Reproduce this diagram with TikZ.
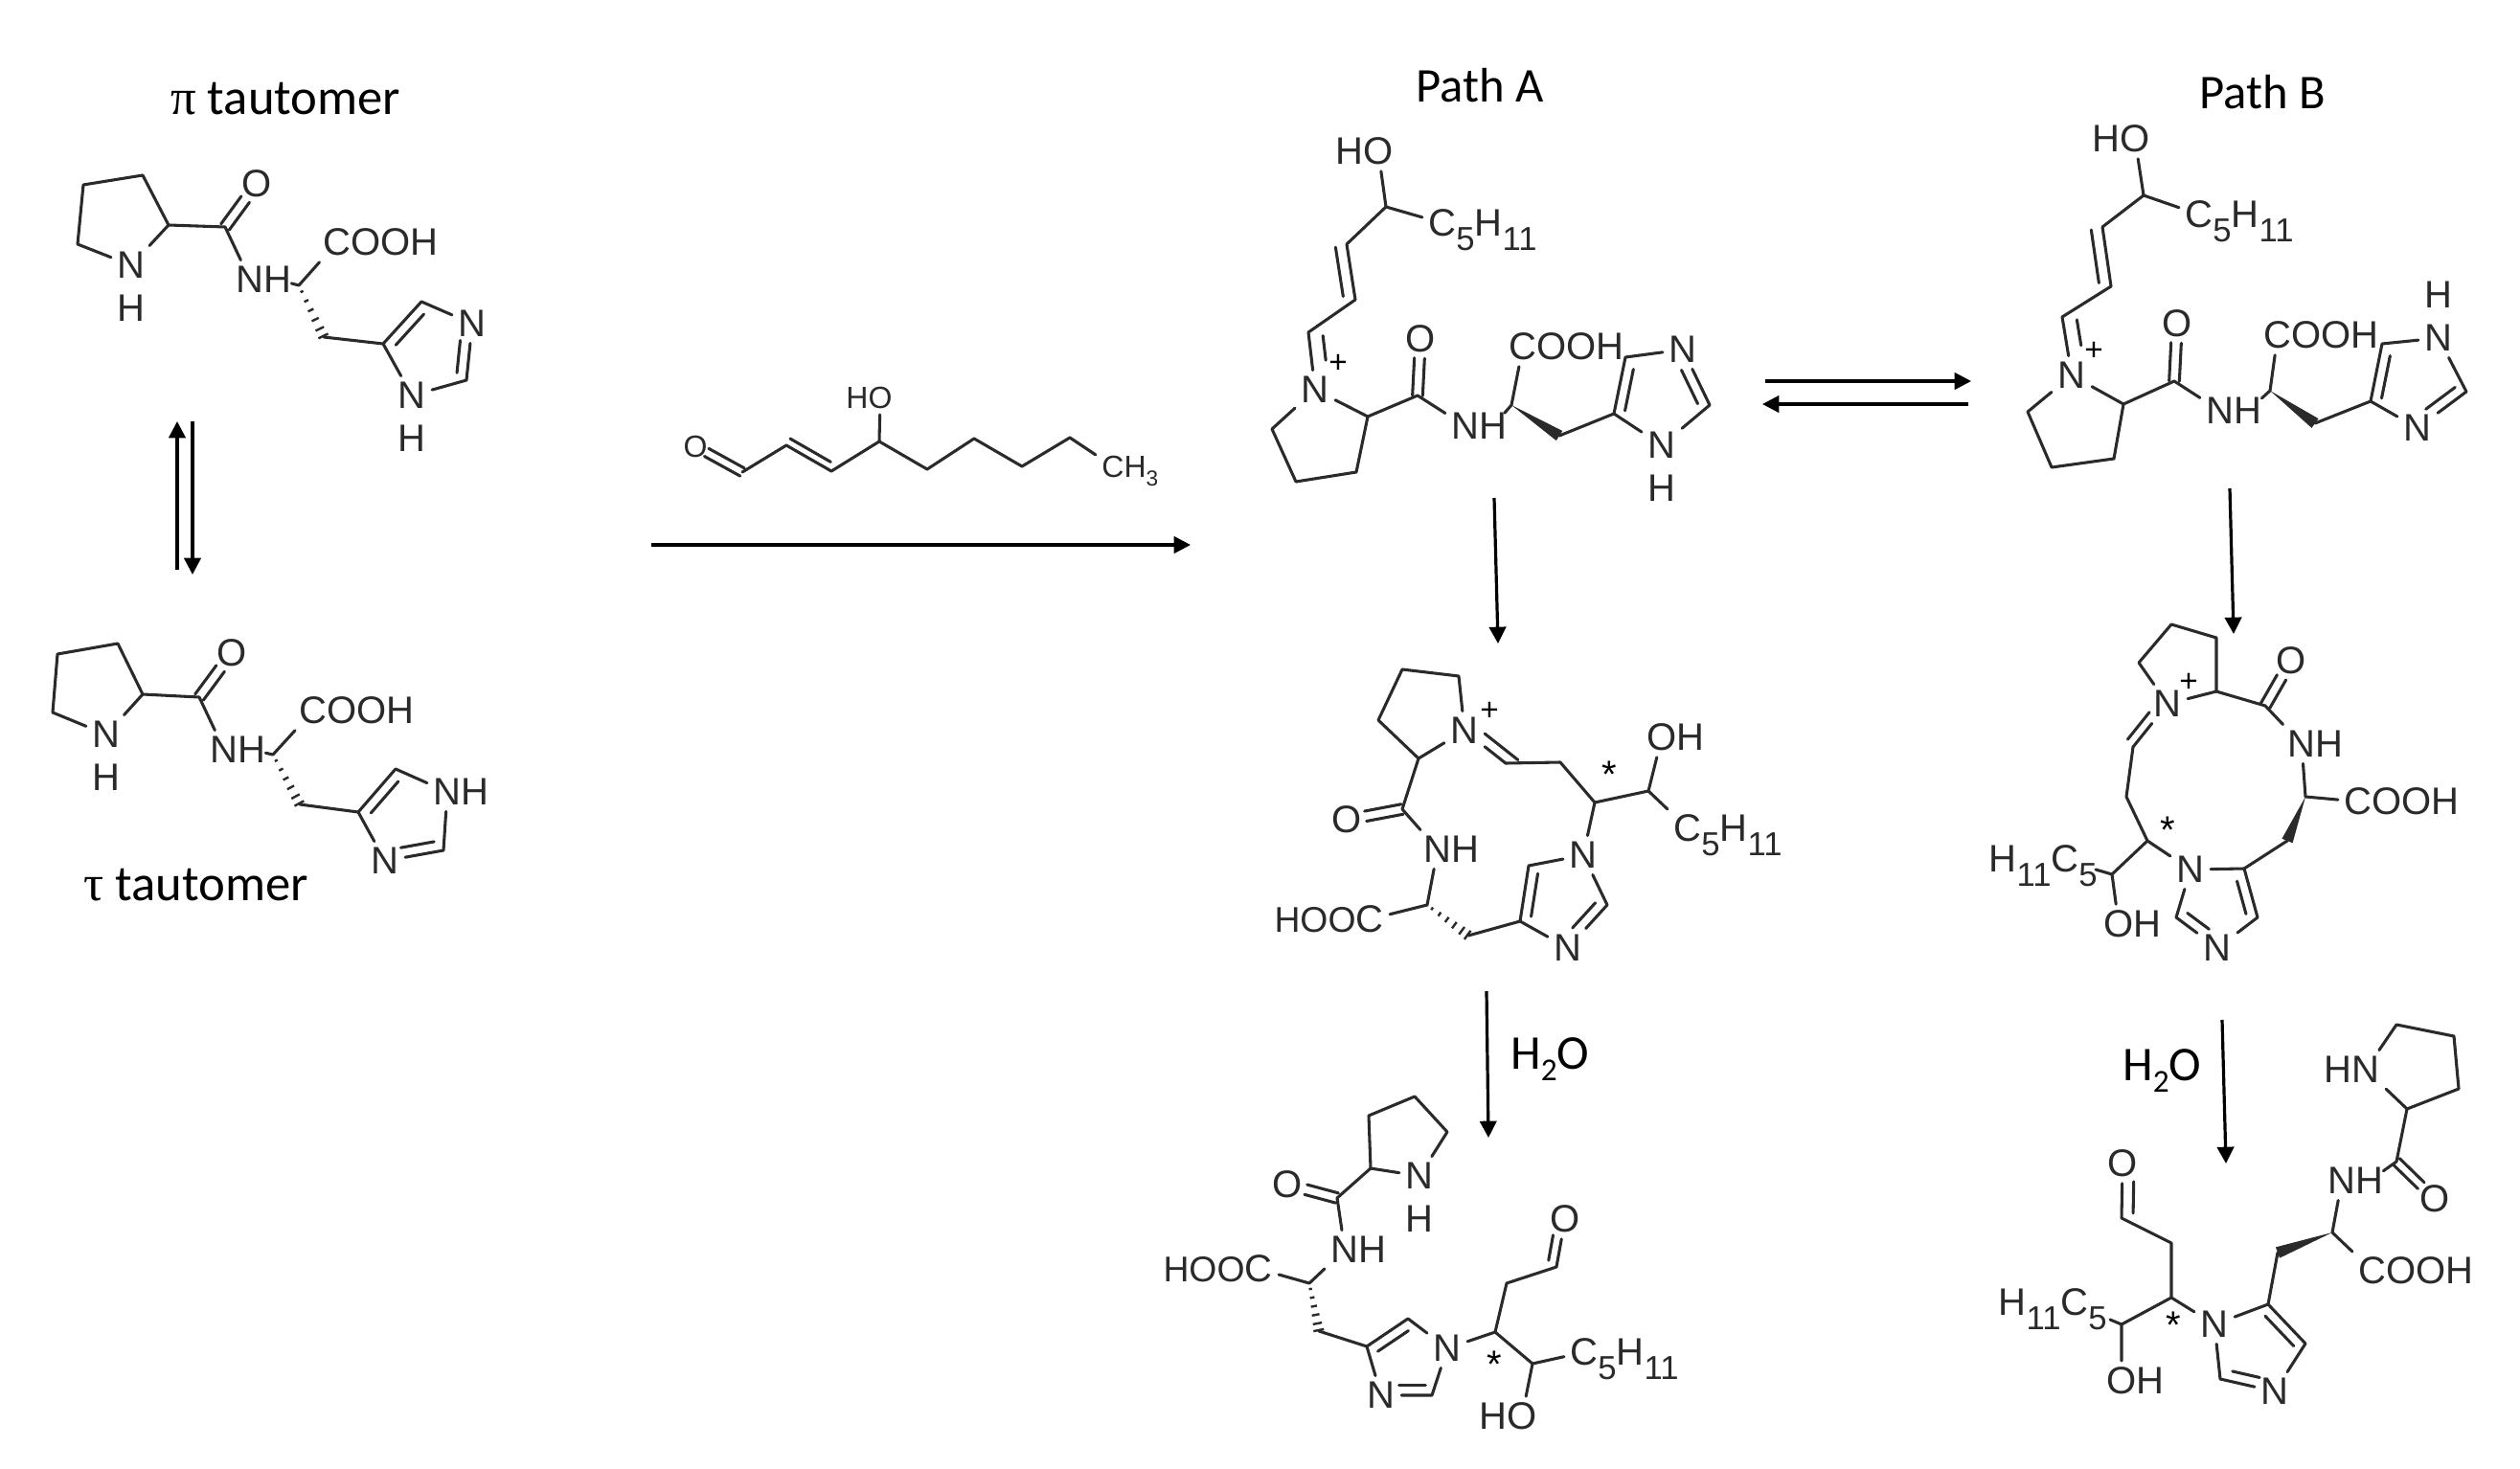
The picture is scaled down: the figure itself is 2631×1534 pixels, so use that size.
\documentclass[tikz,border=0pt]{standalone}
\usepackage{fontspec}
\setmainfont{Liberation Sans}
\newfontfamily\capfont{Carlito}
\newfontfamily\grkfont{Liberation Serif}
\usetikzlibrary{positioning,calc,arrows.meta}
\definecolor{inkgray}{HTML}{2A2A2A}
\tikzset{
  bond/.style={line width=2.3pt,draw=inkgray,line join=round,line cap=round},
  atom/.style={font=\fontsize{30}{30}\selectfont,inner sep=0pt,outer sep=5pt,text=inkgray},
  tail/.style={atom,outer sep=0pt},
  hooc/.style={tail,font=\fontsize{28}{28}\selectfont},
  smallatom/.style={atom,font=\fontsize{24}{24}\selectfont},
  smalltail/.style={smallatom,outer sep=0pt},
  caption/.style={font=\capfont\fontsize{38}{38}\selectfont,inner sep=0pt,text=black,anchor=base west},
  widecaption/.style={caption,font=\capfont\fontsize{39.5}{39.5}\selectfont},
  rxn/.style={line width=2.4pt,draw=black,-{Triangle[length=13pt,width=13pt]}},
  starmark/.style={font=\fontsize{30}{30}\selectfont,inner sep=0pt,anchor=north,text=black},
  plusmark/.style={font=\fontsize{25}{25}\selectfont,inner sep=0pt,text=black}
}
\newcommand{\sbs}[1]{\raisebox{-0.38em}{\fontsize{26}{26}\selectfont #1}}
\newcommand{\smallsbs}[1]{\raisebox{-0.3em}{\fontsize{17}{17}\selectfont #1}}
% second line of a double bond: from, to, offset, shorten start, shorten end
\newcommand{\dbl}[5]{\draw[bond,shorten <=#4,shorten >=#5] ($(#1)!#3!-90:(#2)$) -- ($(#2)!#3!90:(#1)$);}
\newcommand{\hashb}[2]{\foreach \t/\w in {0.12/1.2pt,0.3/1.8pt,0.48/2.4pt,0.66/3pt,0.84/3.6pt,0.98/4.2pt}
  {\draw[line width=1.8pt,draw=inkgray] ($(#1)!\t!(#2)!\w!90:(#2)$) -- ($(#1)!\t!(#2)!\w!-90:(#2)$);}}
\newcommand{\wedgeb}[2]{\fill[inkgray] (#1) -- ($(#2)!4.5pt!90:(#1)$) -- ($(#2)!4.5pt!-90:(#1)$) -- cycle;}
\begin{document}
\begin{tikzpicture}[x=0.75pt,y=0.75pt,yscale=-1,xscale=1]
\useasboundingbox (0,0) rectangle (2631,1534);

% Text Node
\node[widecaption] (capPi) at (178,120) {{\grkfont π} tautomer};
\node[widecaption] (capTau) at (87,940) {{\grkfont τ} tautomer};
\node[caption] (capA) at (1478,107) {Path A};
\node[caption] (capB) at (2296,114) {Path B};
\node[caption] (waterA) at (1577,1116) {H\raisebox{-0.25em}{\fontsize{25}{25}\selectfont 2}O};
\node[caption] (waterB) at (2216,1128) {H\raisebox{-0.25em}{\fontsize{25}{25}\selectfont 2}O};

%Straight Lines
\coordinate (upS) at (185,595); \coordinate (upE) at (185,440);
\coordinate (dnS) at (201,440); \coordinate (dnE) at (201,600);
\coordinate (addS) at (680,569); \coordinate (addE) at (1243,569);
\coordinate (eqS) at (1843,398); \coordinate (eqE) at (2058,398);
\coordinate (qeS) at (2055,422); \coordinate (qeE) at (1840,422);
\coordinate (aS) at (1560,520); \coordinate (aE) at (1564,672);
\coordinate (bS) at (2328,510); \coordinate (bE) at (2332,662);
\coordinate (hS) at (1552,1035); \coordinate (hE) at (1554,1188);
\coordinate (kS) at (2320,1065); \coordinate (kE) at (2324,1215);
\draw[rxn] (upS) -- (upE);
\draw[rxn] (dnS) -- (dnE);
\draw[rxn] (addS) -- (addE);
\draw[rxn] (eqS) -- (eqE);
\draw[rxn] (qeS) -- (qeE);
\draw[rxn] (aS) -- (aE);
\draw[rxn] (bS) -- (bE);
\draw[rxn] (hS) -- (hE);
\draw[rxn] (kS) -- (kE);

%Shape: pi tautomer
\coordinate (pi1) at (87,193); \coordinate (pi2) at (149,183); \coordinate (pi3) at (176,235);
\coordinate (pi4) at (81,255); \coordinate (pi5) at (235,237);
\coordinate (piCa) at (312,298); \coordinate (piCb) at (338,352);
\coordinate (piC4) at (400,359); \coordinate (piC5) at (440,315); \coordinate (piC2) at (487,397);
\node[atom] (piN) at (137,277) {N};
\node[tail,below=8pt of piN] (piH) {H};
\node[atom] (piO) at (268,192) {O};
\node[atom] (piNH) at (261,292) {N};
\node[tail,base right=-5pt of piNH] (piNHh) {H};
\node[atom] (piX) at (352,253) {C};
\node[tail,base right=-5pt of piX] (piXr) {OOH};
\node[atom] (piN3) at (493,338) {N};
\node[atom] (piN1) at (430,413) {N};
\node[tail,below=8pt of piN1] (piH1) {H};
\draw[bond] (piN) -- (pi4) -- (pi1) -- (pi2) -- (pi3) -- (piN);
\draw[bond] (pi3) -- (pi5) -- (piNH);
\dbl{pi5}{piO}{4pt}{0pt}{15pt} \dbl{pi5}{piO}{-4pt}{0pt}{15pt}
\draw[bond] (piNHh) -- (piCa) -- (piX);
\hashb{piCa}{piCb}
\draw[bond] (piCb) -- (piC4) -- (piC5) -- (piN3) -- (piC2) -- (piN1) -- (piC4);
\dbl{piC4}{piC5}{-8pt}{6pt}{6pt}
\dbl{piN3}{piC2}{-8pt}{14pt}{5pt}

%Shape: tau tautomer
\coordinate (tau1) at (60,683); \coordinate (tau2) at (123,672); \coordinate (tau3) at (149,725);
\coordinate (tau4) at (55,744); \coordinate (tau5) at (208,728);
\coordinate (tauCa) at (285,788); \coordinate (tauCb) at (313,840);
\coordinate (tauC4) at (374,848); \coordinate (tauC5) at (413,803); \coordinate (tauC2) at (463,888);
\node[atom] (tauN) at (111,767) {N};
\node[tail,below=8pt of tauN] (tauH) {H};
\node[atom] (tauO) at (242,682) {O};
\node[atom] (tauNH) at (234,783) {N};
\node[tail,base right=-5pt of tauNH] (tauNHh) {H};
\node[atom] (tauX) at (327,742) {C};
\node[tail,base right=-5pt of tauX] (tauXr) {OOH};
\node[atom] (tauN1) at (467,827) {N};
\node[tail,base right=-5pt of tauN1] (tauN1h) {H};
\node[atom] (tauN3) at (402,899) {N};
\draw[bond] (tauN) -- (tau4) -- (tau1) -- (tau2) -- (tau3) -- (tauN);
\draw[bond] (tau3) -- (tau5) -- (tauNH);
\dbl{tau5}{tauO}{4pt}{0pt}{15pt} \dbl{tau5}{tauO}{-4pt}{0pt}{15pt}
\draw[bond] (tauNHh) -- (tauCa) -- (tauX);
\hashb{tauCa}{tauCb}
\draw[bond] (tauCb) -- (tauC4) -- (tauC5) -- (tauN1) -- (tauC2) -- (tauN3) -- (tauC4);
\dbl{tauC4}{tauC5}{-8pt}{6pt}{6pt}
\dbl{tauN3}{tauC2}{8pt}{14pt}{6pt}

%Shape: aldehyde
\coordinate (ald1) at (775,493); \coordinate (ald2) at (821,465); \coordinate (ald3) at (868,492);
\coordinate (ald4) at (918,461); \coordinate (ald5) at (968,490); \coordinate (ald6) at (1017,458);
\coordinate (ald7) at (1067,487); \coordinate (ald8) at (1117,457);
\node[smallatom] (aldO) at (726,466) {O};
\node[smallatom] (aldOH) at (919,415) {O};
\node[smalltail,base left=-5pt of aldOH] (aldOHh) {H};
\node[smallatom] (aldMe) at (1162,487) {C};
\node[smalltail,base right=-5pt of aldMe] (aldMer) {H\smallsbs{3}};
\dbl{aldO}{ald1}{3.5pt}{10pt}{0pt} \dbl{aldO}{ald1}{-3.5pt}{10pt}{0pt}
\draw[bond] (ald1) -- (ald2) -- (ald3) -- (ald4) -- (ald5) -- (ald6) -- (ald7) -- (ald8) -- (aldMe);
\dbl{ald2}{ald3}{6pt}{0pt}{4pt}
\draw[bond] (ald4) -- (aldOH);

%Shape: path A iminium
\coordinate (aa1) at (1447,216); \coordinate (aa2) at (1406,255); \coordinate (aa3) at (1415,313);
\coordinate (aa4) at (1366,347); \coordinate (aa5) at (1428,435); \coordinate (aa6) at (1416,493);
\coordinate (aa7) at (1353,503); \coordinate (aa8) at (1328,448); \coordinate (aa9) at (1480,413);
\coordinate (aaCa) at (1578,423); \coordinate (aaCb) at (1628,455);
\coordinate (aaC4) at (1685,432); \coordinate (aaC5) at (1697,373); \coordinate (aaC2) at (1785,423);
\node[atom] (aaOH) at (1439,158) {O};
\node[tail,base left=-5pt of aaOH] (aaOHh) {H};
\node[atom] (aaR) at (1506,233) {C};
\node[tail,base right=-5pt of aaR] (aaRr) {\sbs{5}H\sbs{11}};
\node[atom] (aaN) at (1373,407) {N};
\node[plusmark] (aaP) at (1397,380) {+};
\node[atom] (aaO) at (1483,354) {O};
\node[atom] (aaNH) at (1530,445) {N};
\node[tail,base right=-5pt of aaNH] (aaNHh) {H};
\node[atom] (aaX) at (1590,362) {C};
\node[tail,base right=-5pt of aaX] (aaXr) {OOH};
\node[atom] (aaN3) at (1757,365) {N};
\node[atom] (aaN1) at (1735,465) {N};
\node[tail,below=8pt of aaN1] (aaH1) {H};
\draw[bond] (aaOH) -- (aa1) -- (aaR);
\draw[bond] (aa1) -- (aa2) -- (aa3) -- (aa4) -- (aaN);
\dbl{aa2}{aa3}{-9pt}{1pt}{4pt}
\dbl{aa4}{aaN}{11pt}{4pt}{22pt}
\draw[bond] (aaN) -- (aa5) -- (aa6) -- (aa7) -- (aa8) -- (aaN);
\draw[bond] (aa5) -- (aa9) -- (aaNH);
\dbl{aa9}{aaO}{4pt}{0pt}{15pt} \dbl{aa9}{aaO}{-4pt}{0pt}{15pt}
\draw[bond] (aaX) -- (aaCa) -- (aaNHh);
\wedgeb{aaCa}{aaCb}
\draw[bond] (aaCb) -- (aaC4) -- (aaC5) -- (aaN3) -- (aaC2) -- (aaN1) -- (aaC4);
\dbl{aaC4}{aaC5}{-8pt}{4pt}{8pt}
\dbl{aaN3}{aaC2}{-8pt}{14pt}{5pt}

%Shape: path B iminium
\coordinate (ba1) at (2238,204); \coordinate (ba2) at (2195,237); \coordinate (ba3) at (2204,299);
\coordinate (ba4) at (2153,331); \coordinate (ba5) at (2217,422); \coordinate (ba6) at (2207,479);
\coordinate (ba7) at (2142,488); \coordinate (ba8) at (2117,430); \coordinate (ba9) at (2270,398);
\coordinate (baCa) at (2370,408); \coordinate (baCb) at (2417,442);
\coordinate (baC4) at (2475,419); \coordinate (baC5) at (2487,359); \coordinate (baC2) at (2575,409);
\node[atom] (baOH) at (2229,145) {O};
\node[tail,base left=-5pt of baOH] (baOHh) {H};
\node[atom] (baR) at (2296,224) {C};
\node[tail,base right=-5pt of baR] (baRr) {\sbs{5}H\sbs{11}};
\node[atom] (baN) at (2163,392) {N};
\node[plusmark] (baP) at (2186,367) {+};
\node[atom] (baO) at (2273,338) {O};
\node[atom] (baNH) at (2318,429) {N};
\node[tail,base right=-5pt of baNH] (baNHh) {H};
\node[atom] (baX) at (2378,350) {C};
\node[tail,base right=-5pt of baX] (baXr) {OOH};
\node[atom] (baN3) at (2546,353) {N};
\node[tail,above=8pt of baN3] (baH3) {H};
\node[atom] (baN1) at (2524,447) {N};
\draw[bond] (baOH) -- (ba1) -- (baR);
\draw[bond] (ba1) -- (ba2) -- (ba3) -- (ba4) -- (baN);
\dbl{ba2}{ba3}{-9pt}{1pt}{4pt}
\dbl{ba4}{baN}{11pt}{4pt}{22pt}
\draw[bond] (baN) -- (ba5) -- (ba6) -- (ba7) -- (ba8) -- (baN);
\draw[bond] (ba5) -- (ba9) -- (baNH);
\dbl{ba9}{baO}{4pt}{0pt}{15pt} \dbl{ba9}{baO}{-4pt}{0pt}{15pt}
\draw[bond] (baX) -- (baCa) -- (baNHh);
\wedgeb{baCa}{baCb}
\draw[bond] (baCb) -- (baC4) -- (baC5) -- (baN3) -- (baC2) -- (baN1) -- (baC4);
\dbl{baC4}{baC5}{-8pt}{4pt}{8pt}
\dbl{baC2}{baN1}{-8pt}{5pt}{14pt}

%Shape: path A macrocycle
\coordinate (ab1) at (1464,699); \coordinate (ab2) at (1523,706); \coordinate (ab3) at (1481,792);
\coordinate (ab4) at (1439,752); \coordinate (ab5) at (1464,845); \coordinate (abCa) at (1490,945);
\coordinate (abCb) at (1533,977); \coordinate (abC4) at (1587,962); \coordinate (abC5) at (1596,904);
\coordinate (abC2) at (1678,945); \coordinate (ab6) at (1572,797); \coordinate (ab7) at (1629,796);
\coordinate (ab8) at (1665,838); \coordinate (ab9) at (1721,826);
\node[atom] (abN) at (1529,763) {N};
\node[plusmark] (abP) at (1555,743) {+};
\node[atom] (abO) at (1406,856) {O};
\node[atom] (abNH) at (1501,887) {N};
\node[tail,base right=-5pt of abNH] (abNHh) {H};
\node[atom] (abX) at (1430,960) {C};
\node[hooc,base left=-5pt of abX] (abXl) {HOO};
\node[atom] (abN1) at (1653,893) {N};
\node[atom] (abN3) at (1637,990) {N};
\node[starmark] (abS) at (1680,795) {*};
\node[atom] (abOH) at (1735,770) {O};
\node[tail,base right=-5pt of abOH] (abOHh) {H};
\node[atom] (abR) at (1762,865) {C};
\node[tail,base right=-5pt of abR] (abRr) {\sbs{5}H\sbs{11}};
\draw[bond] (abN) -- (ab2) -- (ab1) -- (ab4) -- (ab3) -- (abN);
\draw[bond] (ab3) -- (ab5) -- (abNH);
\dbl{ab5}{abO}{4pt}{0pt}{15pt} \dbl{ab5}{abO}{-4pt}{0pt}{15pt}
\draw[bond] (abNH) -- (abCa) -- (abX);
\hashb{abCa}{abCb}
\draw[bond] (abCb) -- (abC4) -- (abC5) -- (abN1) -- (abC2) -- (abN3) -- (abC4);
\dbl{abC4}{abC5}{-8pt}{5pt}{5pt}
\dbl{abC2}{abN3}{-8pt}{5pt}{14pt}
\draw[bond] (abN) -- (ab6) -- (ab7) -- (ab8) -- (abN1);
\dbl{abN}{ab6}{8pt}{14pt}{-6pt}
\draw[bond] (ab8) -- (ab9) -- (abOH);
\draw[bond] (ab9) -- (abR);

%Shape: path B macrocycle
\coordinate (bb1) at (2267,652); \coordinate (bb2) at (2314,666); \coordinate (bb3) at (2314,722);
\coordinate (bb4) at (2233,692); \coordinate (bb5) at (2365,737); \coordinate (bbCa) at (2407,832);
\coordinate (bbCb) at (2388,878); \coordinate (bbC4) at (2343,907); \coordinate (bbC5) at (2357,958);
\coordinate (bbC2) at (2272,958); \coordinate (bb6) at (2227,780); \coordinate (bb7) at (2220,832);
\coordinate (bb8) at (2242,878); \coordinate (bb9) at (2205,913); \coordinate (bbE) at (2188,908);
\node[atom] (bbN) at (2263,735) {N};
\node[plusmark] (bbP) at (2285,713) {+};
\node[atom] (bbO) at (2392,690) {O};
\node[atom] (bbNH) at (2403,777) {N};
\node[tail,base right=-5pt of bbNH] (bbNHh) {H};
\node[atom] (bbX) at (2462,837) {C};
\node[tail,base right=-5pt of bbX] (bbXr) {OOH};
\node[atom] (bbN1) at (2287,908) {N};
\node[atom] (bbN3) at (2315,990) {N};
\node[starmark] (bbS) at (2263,853) {*};
\node[atom] (bbOH) at (2212,965) {O};
\node[tail,base right=-5pt of bbOH] (bbOHh) {H};
\node[atom] (bbR) at (2156,897) {C};
\node[tail,base left=-5pt of bbR] (bbRl) {H\sbs{11}};
\node[tail,base right=-5pt of bbR] (bbRr) {\sbs{5}};
\draw[bond] (bbN) -- (bb4) -- (bb1) -- (bb2) -- (bb3) -- (bbN);
\draw[bond] (bb3) -- (bb5) -- (bbNH);
\dbl{bb5}{bbO}{4pt}{0pt}{15pt} \dbl{bb5}{bbO}{-4pt}{0pt}{15pt}
\draw[bond] (bbNH) -- (bbCa) -- (bbX);
\wedgeb{bbCa}{bbCb}
\draw[bond] (bbCb) -- (bbC4) -- (bbC5) -- (bbN3) -- (bbC2) -- (bbN1) -- (bbC4);
\dbl{bbC4}{bbC5}{-8pt}{8pt}{5pt}
\dbl{bbC2}{bbN3}{8pt}{5pt}{14pt}
\draw[bond] (bbN) -- (bb6) -- (bb7) -- (bb8) -- (bbN1);
\dbl{bbN}{bb6}{-7pt}{14pt}{2pt}
\draw[bond] (bb8) -- (bb9) -- (bbOH);
\draw[bond] (bb9) -- (bbE);

%Shape: path A product
\coordinate (ac1) at (1429,1165); \coordinate (ac2) at (1477,1145); \coordinate (ac3) at (1511,1182);
\coordinate (ac4) at (1431,1220); \coordinate (ac5) at (1396,1251); \coordinate (acCa) at (1367,1340);
\coordinate (acCb) at (1377,1390); \coordinate (acC4) at (1427,1406); \coordinate (acC5) at (1470,1377);
\coordinate (acC2) at (1495,1457); \coordinate (ac6) at (1561,1391); \coordinate (ac7) at (1573,1340);
\coordinate (ac8) at (1625,1323); \coordinate (ac9) at (1600,1424);
\node[atom] (acN) at (1482,1228) {N};
\node[tail,below=8pt of acN] (acH) {H};
\node[atom] (acO) at (1344,1237) {O};
\node[atom] (acNH) at (1404,1305) {N};
\node[tail,base right=-5pt of acNH] (acNHh) {H};
\node[atom] (acX) at (1314,1325) {C};
\node[hooc,base left=-5pt of acX] (acXl) {HOO};
\node[atom] (acN1) at (1511,1408) {N};
\node[atom] (acN3) at (1442,1457) {N};
\node[starmark] (acS) at (1560,1411) {*};
\node[atom] (acO2) at (1634,1273) {O};
\node[atom] (acOH) at (1589,1479) {O};
\node[tail,base left=-5pt of acOH] (acOHh) {H};
\node[atom] (acR) at (1654,1412) {C};
\node[tail,base right=-5pt of acR] (acRr) {\sbs{5}H\sbs{11}};
\draw[bond] (acN) -- (ac3) -- (ac2) -- (ac1) -- (ac4) -- (acN);
\draw[bond] (ac4) -- (ac5) -- (acNH) -- (acCa) -- (acX);
\dbl{ac5}{acO}{4pt}{0pt}{15pt} \dbl{ac5}{acO}{-4pt}{0pt}{15pt}
\hashb{acCa}{acCb}
\draw[bond] (acCb) -- (acC4) -- (acC5) -- (acN1) -- (acC2) -- (acN3) -- (acC4);
\dbl{acC4}{acC5}{-8pt}{5pt}{5pt}
\dbl{acC2}{acN3}{-8pt}{5pt}{14pt}
\draw[bond] (acN1) -- (ac6) -- (ac7) -- (ac8) -- (acO2);
\dbl{ac8}{acO2}{7pt}{4pt}{14pt}
\draw[bond] (ac6) -- (ac9) -- (acOH);
\draw[bond] (ac9) -- (acR);

%Shape: path B product
\coordinate (bc1) at (2502,1070); \coordinate (bc2) at (2562,1082); \coordinate (bc3) at (2567,1137);
\coordinate (bc4) at (2513,1158); \coordinate (bc5) at (2502,1213); \coordinate (bcCa) at (2435,1287);
\coordinate (bcCb) at (2378,1308); \coordinate (bcC5) at (2368,1362); \coordinate (bcC4) at (2407,1403);
\coordinate (bcC2) at (2318,1440); \coordinate (bc6) at (2267,1355); \coordinate (bc7) at (2267,1298);
\coordinate (bc8) at (2215,1272); \coordinate (bc9) at (2215,1383); \coordinate (bcE) at (2203,1378);
\node[atom] (bcN) at (2470,1117) {N};
\node[tail,base left=-5pt of bcN] (bcNh) {H};
\node[atom] (bcO) at (2542,1252) {O};
\node[atom] (bcNH) at (2445,1233) {N};
\node[tail,base right=-5pt of bcNH] (bcNHh) {H};
\node[atom] (bcX) at (2477,1327) {C};
\node[tail,base right=-5pt of bcX] (bcXr) {OOH};
\node[atom] (bcN1) at (2312,1383) {N};
\node[atom] (bcN3) at (2375,1453) {N};
\node[starmark] (bcS) at (2269,1370) {*};
\node[atom] (bcO2) at (2216,1215) {O};
\node[atom] (bcOH) at (2215,1442) {O};
\node[tail,base right=-5pt of bcOH] (bcOHh) {H};
\node[atom] (bcR) at (2166,1360) {C};
\node[tail,base left=-5pt of bcR] (bcRl) {H\sbs{11}};
\node[tail,base right=-5pt of bcR] (bcRr) {\sbs{5}};
\draw[bond] (bcN) -- (bc1) -- (bc2) -- (bc3) -- (bc4) -- (bcN);
\draw[bond] (bc4) -- (bc5) -- (bcNHh);
\draw[bond] (bcNH) -- (bcCa) -- (bcX);
\dbl{bc5}{bcO}{3.5pt}{0pt}{15pt} \dbl{bc5}{bcO}{-3.5pt}{0pt}{15pt}
\wedgeb{bcCa}{bcCb}
\draw[bond] (bcCb) -- (bcC5) -- (bcC4) -- (bcN3) -- (bcC2) -- (bcN1) -- (bcC5);
\dbl{bcC5}{bcC4}{-8pt}{5pt}{5pt}
\dbl{bcC2}{bcN3}{8pt}{8pt}{14pt}
\draw[bond] (bcN1) -- (bc6) -- (bc7) -- (bc8) -- (bcO2);
\dbl{bc8}{bcO2}{-9pt}{4pt}{14pt}
\draw[bond] (bc6) -- (bc9) -- (bcOH);
\draw[bond] (bc9) -- (bcE);

\end{tikzpicture}
\end{document}
